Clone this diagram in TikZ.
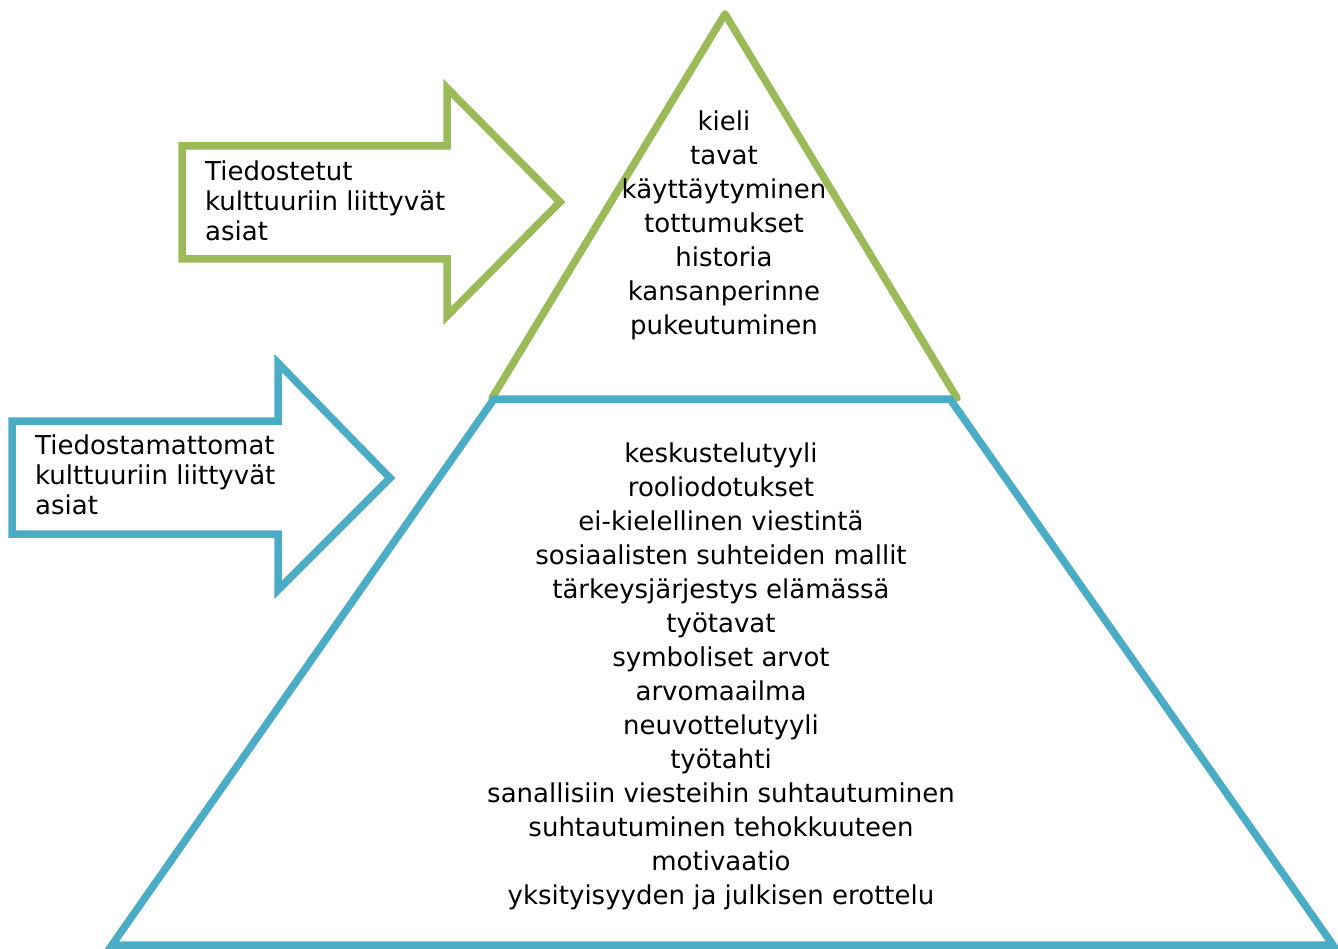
\documentclass[tikz,border=0pt]{standalone}
\usepackage{fontspec}
\setmainfont{DejaVu Sans}
\definecolor{pgreen}{HTML}{9BBB59}
\definecolor{pblue}{HTML}{4BACC6}
\begin{document}
\begin{tikzpicture}[x=1pt,y=-1pt,
  outline/.style={line width=7.5pt,line join=miter},
  pyrtext/.style={align=center,inner sep=0pt,font=\fontsize{26}{34}\selectfont},
  arrtext/.style={align=left,anchor=north west,inner sep=0pt,font=\fontsize{26}{30}\selectfont}]
\useasboundingbox (0,0) rectangle (1338,949);
% green triangle (top)
\coordinate (gapex) at (725,14);
\coordinate (gleft) at (492,398);
\coordinate (gright) at (957,398);
\draw[pgreen,line width=7.5pt,line join=round,line cap=round] (gright) -- (gapex) -- (gleft);
% blue trapezoid
\coordinate (btl) at (494,399);
\coordinate (btr) at (950,399);
\coordinate (bbr) at (1333,945);
\coordinate (bbl) at (112,945);
\draw[pblue,outline] (btl) -- (btr) -- (bbr) -- (bbl) -- cycle;
% green arrow
\draw[pgreen,outline] (182,146) -- (447,146) -- (447,88) -- (560,202) -- (447,316) -- (447,259) -- (182,259) -- cycle;
% blue arrow
\draw[pblue,outline] (12,421) -- (278,421) -- (278,363) -- (390,478) -- (278,590) -- (278,534) -- (12,534) -- cycle;
% texts
\node[arrtext] (gtxt) at (205,161) {Tiedostetut\\kulttuuriin liittyvät\\asiat};
\node[arrtext] (btxt) at (35,435) {Tiedostamattomat\\kulttuuriin liittyvät\\asiat};
\node[pyrtext] (top) at (724,225) {kieli\\tavat\\käyttäytyminen\\tottumukset\\historia\\kansanperinne\\pukeutuminen};
\node[pyrtext] (bottom) at (721,676) {keskustelutyyli\\rooliodotukset\\ei-kielellinen viestintä\\sosiaalisten suhteiden mallit\\tärkeysjärjestys elämässä\\työtavat\\symboliset arvot\\arvomaailma\\neuvottelutyyli\\työtahti\\sanallisiin viesteihin suhtautuminen\\suhtautuminen tehokkuuteen\\motivaatio\\yksityisyyden ja julkisen erottelu};
\end{tikzpicture}
\end{document}
